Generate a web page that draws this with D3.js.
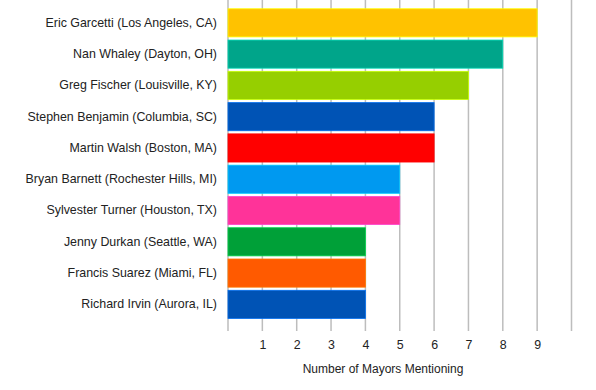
<!DOCTYPE html>
<html>
<head>
<meta charset="utf-8">
<script src="https://cdn.jsdelivr.net/npm/d3@7"></script>
<style>
  html, body { margin: 0; padding: 0; background: #fff; }
  svg { display: block; }
  text { font-family: "Liberation Sans", Arial, Helvetica, sans-serif; fill: #222; }
</style>
</head>
<body>
<svg id="chart" width="596" height="390"></svg>
<script>
const categories = [
  "Eric Garcetti (Los Angeles, CA)",
  "Nan Whaley (Dayton, OH)",
  "Greg Fischer (Louisville, KY)",
  "Stephen Benjamin (Columbia, SC)",
  "Martin Walsh (Boston, MA)",
  "Bryan Barnett (Rochester Hills, MI)",
  "Sylvester Turner (Houston, TX)",
  "Jenny Durkan (Seattle, WA)",
  "Francis Suarez (Miami, FL)",
  "Richard Irvin (Aurora, IL)"
];
const values = [9, 8, 7, 6, 6, 5, 5, 4, 4, 4];
const colors = ["#FFC200", "#00A58A", "#96CF00", "#0053B5", "#FF0000",
                "#0099F0", "#FF3399", "#00A038", "#FF5A00", "#0053B5"];
const gridValues = [0, 1, 2, 3, 4, 5, 6, 7, 8, 9, 10];
const tickLabels = [1, 2, 3, 4, 5, 6, 7, 8, 9];
const xTitle = "Number of Mayors Mentioning";

const svg = d3.select("#chart");
const x = d3.scaleLinear().domain([0, 10]).range([228, 571.5]);
const y = d3.scaleBand().domain(categories).range([7.2, 320]).paddingInner(0.1).paddingOuter(0.05);

// gridlines
svg.append("g").selectAll("line").data(gridValues).join("line")
  .attr("x1", d => x(d)).attr("x2", d => x(d))
  .attr("y1", 0).attr("y2", 331)
  .attr("stroke", "#bdbdbd").attr("stroke-width", 1.5);

// bars
svg.append("g").selectAll("rect").data(categories).join("rect")
  .attr("x", x(0))
  .attr("y", d => y(d))
  .attr("width", (d, i) => x(values[i]) - x(0))
  .attr("height", y.bandwidth())
  .attr("fill", (d, i) => colors[i])
  .attr("stroke", (d, i) => d3.color(colors[i]).brighter(0.8))
  .attr("stroke-width", 0.8);

// category labels
const yAxis = d3.axisLeft(y).tickSize(0).tickPadding(0);
const gy = svg.append("g").attr("transform", "translate(217,0)").call(yAxis);
gy.select(".domain").remove();
gy.selectAll("text").attr("font-size", 12.4).attr("fill", "#1e1e1e")
  .style("font-family", "'Liberation Sans', Arial, sans-serif");

// x tick labels
const xAxis = d3.axisBottom(x).tickValues(tickLabels).tickSize(0).tickPadding(0).tickFormat(d3.format("d"));
const gx = svg.append("g").attr("transform", "translate(0,340)").call(xAxis);
gx.select(".domain").remove();
gx.selectAll("text").attr("font-size", 12.4).attr("fill", "#1e1e1e")
  .style("font-family", "'Liberation Sans', Arial, sans-serif");

// x title
svg.append("text")
  .attr("x", 383).attr("y", 373)
  .attr("text-anchor", "middle")
  .attr("font-size", 12)
  .attr("fill", "#1e1e1e")
  .text(xTitle);
</script>
</body>
</html>
